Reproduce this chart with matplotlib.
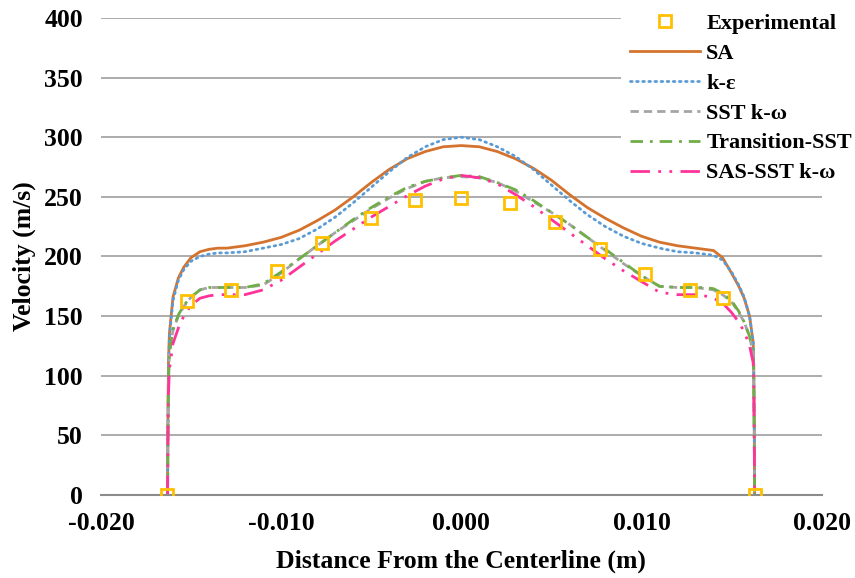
import matplotlib
matplotlib.use("Agg")
import matplotlib.pyplot as plt

# distance from centerline (m), shared by every model curve
x = [-0.01630, -0.01628, -0.01625, -0.0162, -0.0160, -0.0157, -0.0154, -0.0150,
     -0.0145, -0.0140, -0.0135, -0.0130, -0.0120, -0.0110, -0.0100, -0.0090,
     -0.0080, -0.0070, -0.0060, -0.0050, -0.0040, -0.0030, -0.0020, -0.0010,
     0.0,
     0.0010, 0.0020, 0.0030, 0.0040, 0.0050, 0.0060, 0.0070, 0.0080, 0.0090,
     0.0100, 0.0110, 0.0120, 0.0130, 0.0135, 0.0140, 0.0145, 0.0150, 0.0154,
     0.0157, 0.0160, 0.0162, 0.01623, 0.01626, 0.01628]

sa = [0, 60, 110, 135, 166, 182, 191, 199, 204, 206, 207, 207, 209, 212, 216, 222,
      230, 239, 250, 262, 273, 282, 288, 292, 293,
      292, 288, 282, 274, 264, 252, 241, 232, 224, 217, 212, 209, 207, 206, 205,
      199, 186, 175, 165, 150, 128, 110, 60, 0]

k_eps = [0, 55, 105, 132, 163, 180, 189, 196, 200, 202, 203, 203, 204, 207, 210, 215,
         223, 233, 245, 258, 271, 283, 292, 298, 300,
         298, 292, 284, 273, 260, 247, 235, 225, 217, 211, 207, 204, 203, 202, 201,
         197, 187, 176, 166, 150, 128, 108, 55, 0]

sst = [0, 50, 95, 118, 138, 150, 158, 166, 172, 174, 174, 174, 174, 176, 186, 198,
       209, 220, 230, 240, 249, 257, 263, 266, 267,
       266, 262, 255, 246, 237, 227, 216, 205, 194, 184, 175, 174, 174, 173, 172,
       168, 162, 153, 145, 133, 118, 100, 50, 0]

trans = [0, 50, 96, 119, 139, 151, 159, 166, 172, 174, 174, 174, 174, 177, 187, 198,
         209, 220, 231, 241, 250, 258, 263, 266, 268,
         267, 262, 256, 247, 237, 227, 216, 206, 195, 184, 175, 174, 174, 174, 173,
         169, 163, 154, 145, 133, 118, 100, 50, 0]

sas = [0, 45, 85, 105, 127, 140, 150, 159, 165, 167, 168, 168, 168, 172, 180, 191,
       202, 213, 223, 233, 242, 251, 259, 265, 268,
       266, 261, 252, 242, 231, 220, 209, 198, 188, 179, 170, 168, 168, 167, 165,
       161, 153, 145, 137, 125, 111, 95, 45, 0]

# experimental measurements
x_exp = [-0.01634, -0.01523, -0.01279, -0.01024, -0.00774, -0.00502, -0.00258, 0.0,
         0.00269, 0.00519, 0.00768, 0.01018, 0.01268, 0.01451, 0.01628]
v_exp = [0, 163, 172, 188, 211, 232, 247, 249, 245, 229, 206, 185, 172, 165, 0]

plt.rcParams['font.family'] = ['Liberation Serif', 'DejaVu Serif']
plt.rcParams['font.weight'] = 'bold'

fig = plt.figure(figsize=(8.55, 5.78), dpi=100)
ax = fig.add_axes([0.118, 0.1436, 0.843, 0.8253])

ax.plot(x_exp, v_exp, linestyle='none', marker='s', markersize=8.5,
        markerfacecolor='none', markeredgecolor='#FFC000', markeredgewidth=2,
        label='Experimental', zorder=5)
ax.plot(x, sa, color='#D4732E', lw=2, label='SA')
ax.plot(x, k_eps, color='#5B9BD5', lw=2, linestyle=(0, (0.6, 1.6)),
        dash_capstyle='round', label='k-ε')
ax.plot(x, sst, color='#A5A5A5', lw=2, linestyle=(0, (3, 1.8)), label='SST k-ω')
ax.plot(x, trans, color='#70AD47', lw=2, linestyle=(0, (4.5, 2.5, 1, 2.5)),
        label='Transition-SST')
ax.plot(x, sas, color='#FF3399', lw=2, linestyle=(0, (7, 3, 1, 3, 1, 3)),
        label='SAS-SST k-ω')

ax.set_xlim(-0.02, 0.02)
ax.set_ylim(0, 400)
ax.set_xticks([-0.02, -0.01, 0.0, 0.01, 0.02])
ax.set_xticklabels(['%.3f' % t for t in [-0.02, -0.01, 0.0, 0.01, 0.02]])
ax.set_yticks(range(0, 401, 50))
ax.tick_params(length=0, labelsize=18.5)
ax.tick_params(axis='x', pad=12)
ax.tick_params(axis='y', pad=13)
ax.yaxis.grid(True, color='#A6A6A6', lw=1.3)
ax.set_axisbelow(True)
for s in ['left', 'top', 'right']:
    ax.spines[s].set_visible(False)
ax.spines['bottom'].set_color('#8C8C8C')
ax.spines['bottom'].set_linewidth(1.5)

ax.set_xlabel('Distance From the Centerline (m)', fontsize=18.5, fontweight='bold', labelpad=11)
ax.set_ylabel('Velocity (m/s)', fontsize=18.5, fontweight='bold', labelpad=6)

leg = fig.legend(loc='upper right', bbox_to_anchor=(1.012, 1.0), fontsize=16,
                 frameon=True, handlelength=3.15, labelspacing=0.42,
                 borderaxespad=0.2, borderpad=0.4, handletextpad=0.3)
leg.get_frame().set_edgecolor('none')
leg.get_frame().set_facecolor('white')
leg.get_frame().set_alpha(1)

fig.savefig('out.png', dpi=100)
